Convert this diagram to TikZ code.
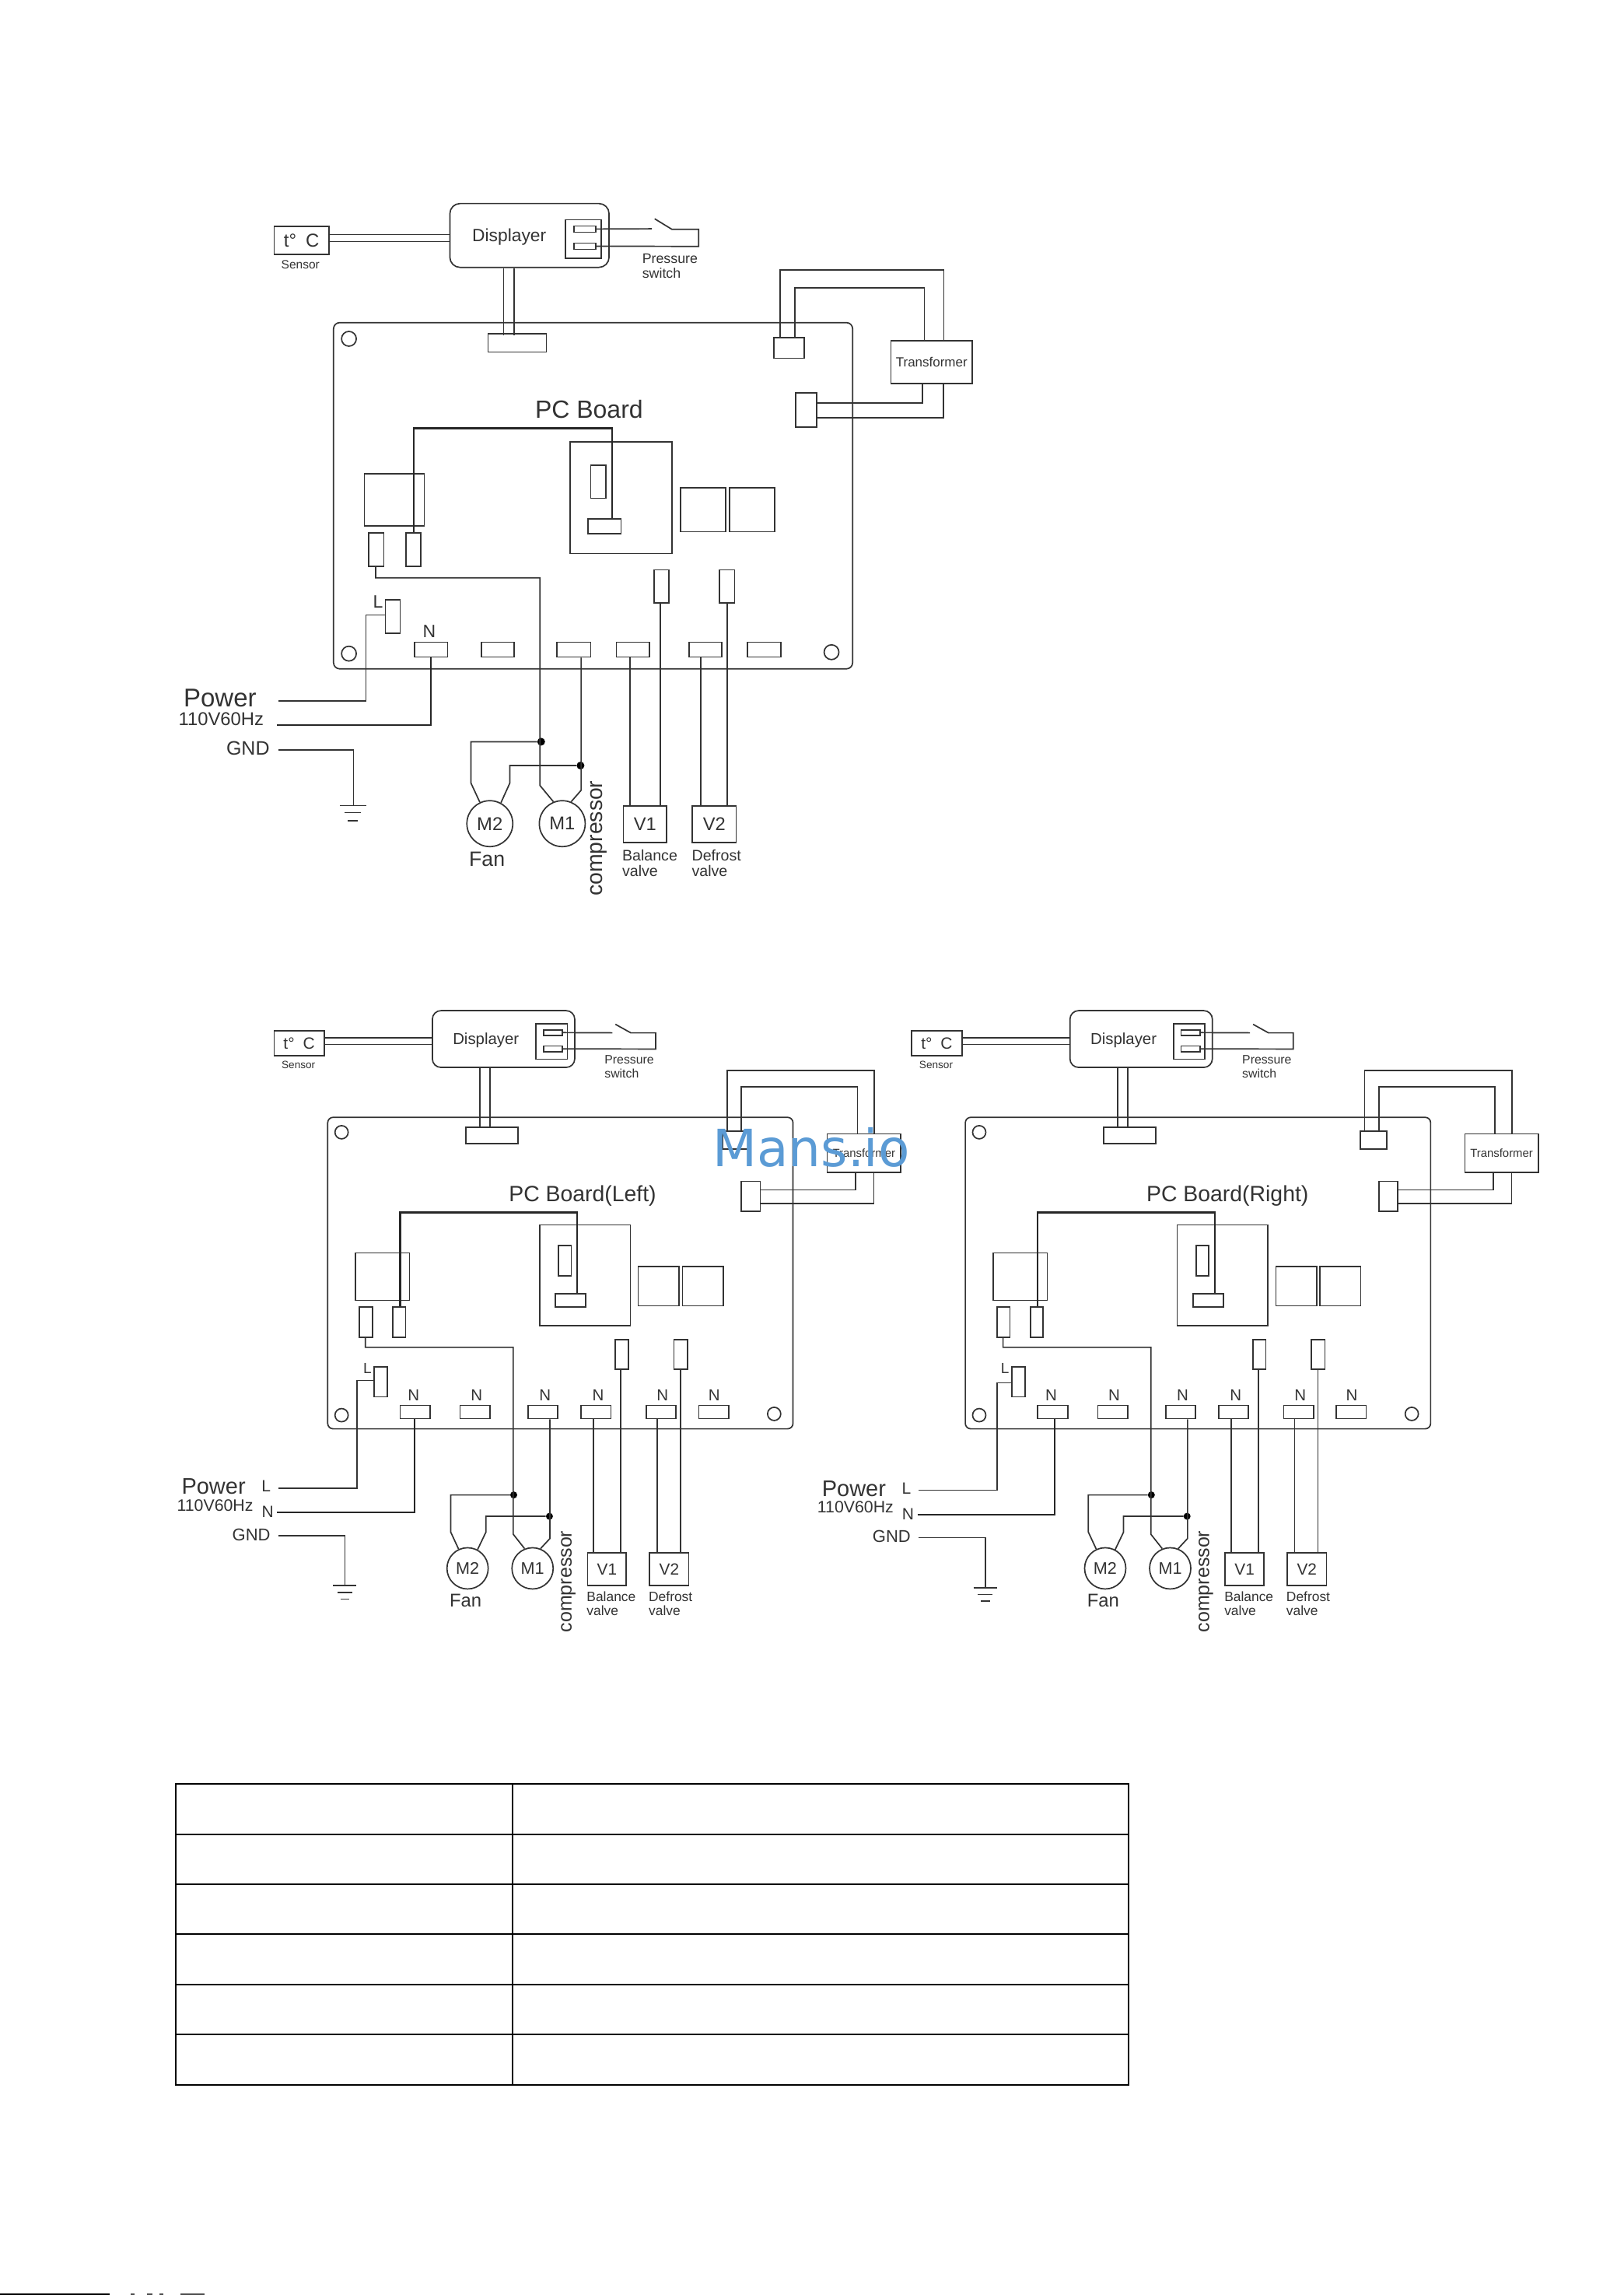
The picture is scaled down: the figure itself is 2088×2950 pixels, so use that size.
\documentclass[tikz,border=0pt]{standalone}
\usepackage{fontspec}
\setmainfont{Liberation Sans}
\newfontfamily\wmfont{DejaVu Sans}
\usetikzlibrary{fit}
\definecolor{ink}{HTML}{333333}
\definecolor{wm}{HTML}{5B9BD5}
\newcommand{\fs}[1]{\fontsize{#1pt}{#1pt}\selectfont}
\tikzset{
  boxn/.style={draw=ink,line width=1.7pt,inner sep=0pt,rectangle},
  wire/.style={draw=ink,line width=1.7pt,line join=miter},
  hwire/.style={draw=black!85,line width=2.4pt,line join=miter},
  txt/.style={text=ink,inner sep=0pt},
  hole/.style={circle,draw=ink,line width=1.7pt,inner sep=0pt,minimum size=#1},
  motor/.style={circle,draw=ink,line width=1.7pt,inner sep=0pt,text=ink,minimum size=#1},
  joint/.style={circle,fill=black,inner sep=0pt,minimum size=#1},
  tline/.style={draw=black,line width=2pt}
}
\newcommand{\bx}[7][]{\node[boxn,#1,fit={(#3,#4) (#5,#6)}] (#2) {};%
  \node[txt,#1,draw=none,rounded corners=0pt] (#2-t) at (#2.center) {#7};}

% ---------- lower diagram, written in a 1568-wide frame of its own
\newcommand{\lowdiag}[5]{%
\begin{scope}[shift={(#2pt,-1270pt)},x=.6378pt,y=-.5485pt]
  \bx[font=\fs{21}]{#1sens}{239}{100}{340}{159}{t°\hspace{11pt}C}
  \node[txt,font=\fs{13.6}] (#1senst) at (288,180) {Sensor};
  \bx[rounded corners=11pt]{#1disp}{558}{53}{845}{186}{}
  \node[txt,font=\fs{20.4}] (#1dispt) at (666,122) {Displayer};
  \bx{#1sock}{767}{84}{830}{167}{}
  \bx{#1pa}{782}{98}{820}{111}{}
  \bx{#1pb}{782}{136}{820}{149}{}
  \draw[wire] (#1sens.east |- 0,117) -- (#1disp.west |- 0,117);
  \draw[wire] (#1sens.east |- 0,132) -- (#1disp.west |- 0,132);
  \coordinate (#1swa) at (921,105);
  \coordinate (#1swt) at (927,85);
  \coordinate (#1swb) at (958,105);
  \draw[wire] (#1pa.east) -- (#1swa);
  \draw[wire] (#1swt) -- (#1swb) -- (1008,105) -- (1008,143) -- (#1pb.east);
  \node[txt,font=\fs{15.8},anchor=west] (#1pt1) at (905,168) {Pressure};
  \node[txt,font=\fs{15.8},anchor=west] (#1pt2) at (905,200) {switch};
  % board
  \bx[rounded corners=7pt]{#1board}{347}{303}{1285}{1033}{}
  \node[hole=17pt] (#1h1) at (375,338) {};
  \node[hole=17pt] (#1h2) at (375,1001) {};
  \node[hole=17pt] (#1h3) at (1247,998) {};
  \bx{#1cc}{626}{326}{731}{365}{}
  \draw[wire] (654,0 |- #1disp.south) -- (654,0 |- #1cc.north);
  \draw[wire] (674,0 |- #1disp.south) -- (674,0 |- #1cc.north);
  % transformer
  \bx{#1ctop}{1143}{335}{1197}{378}{}
  \bx{#1cside}{1181}{453}{1219}{523}{}
  \bx[font=\fs{14.9}]{#1trans}{1354}{342}{1502}{432}{Transformer}
  \draw[wire] (1152,0 |- #1ctop.north) -- (1152,193) -- (1449,193) -- (1449,0 |- #1trans.north);
  \draw[wire] (1181,0 |- #1ctop.north) -- (1181,231) -- (1415,231) -- (1415,0 |- #1trans.north);
  \draw[wire] (#1cside.east |- 0,473) -- (1411,473) -- (1411,0 |- #1trans.south);
  \draw[wire] (#1cside.east |- 0,505) -- (1448,505) -- (1448,0 |- #1trans.south);
  \node[txt,font=\fs{28.4},anchor=west] (#1title) at (712,487) {#3};
  % parts
  \bx{#1rel}{403}{621}{512}{732}{}
  \bx{#1sa}{411}{747}{437}{818}{}
  \bx{#1sb}{478}{747}{504}{818}{}
  \bx{#1sq}{774}{555}{957}{791}{}
  \bx{#1sqa}{812}{604}{838}{674}{}
  \bx{#1sqb}{806}{717}{867}{748}{}
  \bx{#1ra}{973}{653}{1055}{745}{}
  \bx{#1rb}{1062}{653}{1144}{745}{}
  \bx{#1ta}{927}{824}{953}{893}{}
  \bx{#1tb}{1045}{824}{1072}{893}{}
  \draw[hwire] (850,0 |- #1sqb.north) -- (850,526) -- (493,526) -- (493,0 |- #1sb.north);
  % terminals
  \bx{#1lc}{441}{888}{467}{958}{}
  \node[txt,font=\fs{19}] (#1ll) at (427,892) {L};
  \bx{#1n1}{493}{978}{554}{1009}{}
  \bx{#1n2}{614}{978}{674}{1009}{}
  \bx{#1n3}{751}{978}{811}{1009}{}
  \bx{#1n4}{858}{978}{918}{1009}{}
  \bx{#1n5}{989}{978}{1049}{1009}{}
  \bx{#1n6}{1095}{978}{1155}{1009}{}
  \node[txt,font=\fs{20.5}] (#1nt1) at (520,955) {N};
  \node[txt,font=\fs{20.5}] (#1nt2) at (647,955) {N};
  \node[txt,font=\fs{20.5}] (#1nt3) at (785,955) {N};
  \node[txt,font=\fs{20.5}] (#1nt4) at (892,955) {N};
  \node[txt,font=\fs{20.5}] (#1nt5) at (1022,955) {N};
  \node[txt,font=\fs{20.5}] (#1nt6) at (1126,955) {N};
  % loads
  \node[motor=53pt,font=\fs{21.6}] (#1m2) at (629,1360) {M2};
  \node[motor=53pt,font=\fs{21.6}] (#1m1) at (760,1360) {M1};
  \node[txt,font=\fs{23.8}] (#1fan) at (625,1435) {Fan};
  \node[txt,font=\fs{25},rotate=90] (#1comp) at (832,1391) {compressor};
  \bx[font=\fs{20.8}]{#1v1}{871}{1324}{949}{1400}{V1}
  \bx[font=\fs{20.8}]{#1v2}{996}{1324}{1075}{1400}{V2}
  \node[txt,font=\fs{17.4},anchor=west] (#1b1) at (869,1426) {Balance};
  \node[txt,font=\fs{17.4},anchor=west] (#1b2) at (869,1459) {valve};
  \node[txt,font=\fs{17.4},anchor=west] (#1d1) at (994,1426) {Defrost};
  \node[txt,font=\fs{17.4},anchor=west] (#1d2) at (994,1459) {valve};
  \node[joint=9pt] (#1j1) at (722,1188) {};
  \node[joint=9pt] (#1j2) at (794,1238) {};
  \draw[wire] (423,0 |- #1sa.south) -- (423,842) -- (721,842) -- (721,1280) -- (#1m1.112);
  \draw[wire] (795,0 |- #1n3.south) -- (795,1290) -- (#1m1.68);
  \draw[wire] (#1j1) -- (595,1188) -- (595,1275) -- (#1m2.115);
  \draw[wire] (#1j2) -- (666,1238) -- (666,1275) -- (#1m2.62);
  \draw[wire] (883,0 |- #1n4.south) -- (883,0 |- #1v1.north);
  \draw[wire] (938,0 |- #1ta.south) -- (938,0 |- #1v1.north);
  \draw[wire] (1011,0 |- #1n5.south) -- (1011,0 |- #1v2.north);
  \draw[wire] (1058,0 |- #1tb.south) -- (1058,0 |- #1v2.north);
  % supply, moved as one group
  \node[txt,font=\fs{29}] (#1pw) at (117+#4,1168+#5) {Power};
  \node[txt,font=\fs{21.3}] (#1hz) at (120+#4,1212+#5) {110V60Hz};
  \node[txt,font=\fs{21}] (#1pl) at (223+#4,1167+#5) {L};
  \node[txt,font=\fs{21}] (#1pn) at (226+#4,1228+#5) {N};
  \node[txt,font=\fs{22}] (#1gn) at (193+#4,1281+#5) {GND};
  \coordinate (#1le) at (248+#4,1172+#5);
  \coordinate (#1ne) at (245+#4,1229+#5);
  \coordinate (#1ge) at (247+#4,1283+#5);
  \coordinate (#1g1) at (382+#4,1400+#5);
  \draw[wire] (#1le) -- (406+#4,1172+#5) -- (406+#4,920+#5) -- (#1lc.west |- 0,920+#5);
  \draw[hwire,line width=2pt] (#1ne) -- (522+#4,1229+#5) -- (522+#4,0 |- #1n1.south);
  \draw[wire] (#1ge) -- (382+#4,1283+#5) -- (#1g1);
  \draw[wire] (358+#4,1400+#5) -- (405+#4,1400+#5);
  \draw[wire] (367+#4,1416+#5) -- (396+#4,1416+#5);
  \draw[wire] (373+#4,1432+#5) -- (391+#4,1432+#5);
\end{scope}}

\begin{document}
\begin{tikzpicture}
\useasboundingbox (0,0) rectangle (2088pt,-2950pt);
\fill[white] (0,0) rectangle (2088pt,-2950pt);

% ---------- upper diagram
\begin{scope}[shift={(200pt,-220pt)},x=.7334pt,y=-.6122pt]
  \bx[font=\fs{24}]{tsens}{208}{116}{304}{175}{t°\hspace{12pt}C}
  \node[txt,font=\fs{15.5}] (tsenst) at (254,196) {Sensor};
  \bx[rounded corners=13pt]{tdisp}{516}{68}{795}{202}{}
  \node[txt,font=\fs{22.8}] (tdispt) at (620,138) {Displayer};
  \bx{tsock}{719}{102}{781}{183}{}
  \bx{tpa}{734}{115}{772}{128}{}
  \bx{tpb}{734}{151}{772}{164}{}
  \draw[wire] (tsens.east |- 0,133) -- (tdisp.west |- 0,133);
  \draw[wire] (tsens.east |- 0,148) -- (tdisp.west |- 0,148);
  \coordinate (tswa) at (870,121);
  \coordinate (tswt) at (875,100);
  \coordinate (tswb) at (905,122);
  \draw[wire] (tpa.east) -- (tswa);
  \draw[wire] (tswt) -- (tswb) -- (952,122) -- (952,158) -- (tpb.east);
  \node[txt,font=\fs{17.8},anchor=west] (tpt1) at (853,183) {Pressure};
  \node[txt,font=\fs{17.8},anchor=west] (tpt2) at (853,215) {switch};
  % board
  \bx[rounded corners=8pt]{tboard}{312}{318}{1222}{1045}{}
  \node[hole=19pt] (th1) at (339,352) {};
  \node[hole=19pt] (th2) at (339,1013) {};
  \node[hole=19pt] (th3) at (1185,1010) {};
  \bx{tcc}{583}{341}{685}{380}{}
  \draw[wire] (610,0 |- tdisp.south) -- (610,345);
  \draw[wire] (629,0 |- tdisp.south) -- (629,345);
  % transformer
  \bx{tctop}{1084}{350}{1137}{393}{}
  \bx{tcside}{1122}{466}{1159}{537}{}
  \bx[font=\fs{17}]{ttrans}{1289}{356}{1432}{446}{Transformer}
  \draw[wire] (1095,0 |- tctop.north) -- (1095,208) -- (1382,208) -- (1382,0 |- ttrans.north);
  \draw[wire] (1121,0 |- tctop.north) -- (1121,245) -- (1348,245) -- (1348,0 |- ttrans.north);
  \draw[wire] (tcside.east |- 0,487) -- (1344,487) -- (1344,0 |- ttrans.south);
  \draw[wire] (tcside.east |- 0,518) -- (1381,518) -- (1381,0 |- ttrans.south);
  \node[txt,font=\fs{32}] (ttitle) at (760,500) {PC Board};
  % parts
  \bx{trel}{366}{635}{471}{745}{}
  \bx{tsa}{374}{760}{400}{830}{}
  \bx{tsb}{439}{760}{465}{830}{}
  \bx{tsq}{727}{569}{905}{803}{}
  \bx{tsqa}{763}{617}{789}{687}{}
  \bx{tsqb}{758}{730}{816}{761}{}
  \bx{tra}{920}{665}{999}{757}{}
  \bx{trb}{1006}{665}{1085}{757}{}
  \bx{tta}{874}{837}{900}{906}{}
  \bx{ttb}{989}{837}{1015}{906}{}
  \draw[hwire] (800,0 |- tsqb.north) -- (800,540) -- (453,540) -- (453,0 |- tsb.north);
  % terminals
  \bx{tlc}{403}{900}{429}{970}{}
  \node[txt,font=\fs{23}] (tll) at (390,905) {L};
  \bx{tn1}{454}{989}{512}{1020}{}
  \bx{tn2}{571}{989}{629}{1020}{}
  \bx{tn3}{704}{989}{763}{1020}{}
  \bx{tn4}{808}{989}{866}{1020}{}
  \bx{tn5}{935}{989}{993}{1020}{}
  \bx{tn6}{1038}{989}{1096}{1020}{}
  \node[txt,font=\fs{23}] (tnt1) at (480,967) {N};
  % loads
  \node[motor=59pt,font=\fs{23.8}] (tm2) at (586,1370) {M2};
  \node[motor=59pt,font=\fs{23.8}] (tm1) at (713,1370) {M1};
  \node[txt,font=\fs{26.7}] (tfan) at (581,1444) {Fan};
  \node[txt,font=\fs{28.4},rotate=90] (tcomp) at (777,1401) {compressor};
  \bx[font=\fs{23.7}]{tv1}{820}{1333}{896}{1410}{V1}
  \bx[font=\fs{23.7}]{tv2}{941}{1333}{1018}{1410}{V2}
  \node[txt,font=\fs{19.6},anchor=west] (tb1) at (818,1436) {Balance};
  \node[txt,font=\fs{19.6},anchor=west] (tb2) at (818,1469) {valve};
  \node[txt,font=\fs{19.6},anchor=west] (td1) at (940,1436) {Defrost};
  \node[txt,font=\fs{19.6},anchor=west] (td2) at (940,1469) {valve};
  \node[joint=10pt] (tj1) at (676,1198) {};
  \node[joint=10pt] (tj2) at (745,1248) {};
  \draw[wire] (386,0 |- tsa.south) -- (386,854) -- (674,854) -- (674,1290) -- (tm1.112);
  \draw[wire] (746,0 |- tn3.south) -- (746,1300) -- (tm1.68);
  \draw[wire] (tj1) -- (553,1198) -- (553,1285) -- (tm2.115);
  \draw[wire] (tj2) -- (621,1248) -- (621,1285) -- (tm2.62);
  \draw[wire] (832,0 |- tn4.south) -- (832,0 |- tv1.north);
  \draw[wire] (885,0 |- tta.south) -- (885,0 |- tv1.north);
  \draw[wire] (956,0 |- tn5.south) -- (956,0 |- tv2.north);
  \draw[wire] (1002,0 |- ttb.south) -- (1002,0 |- tv2.north);
  % supply
  \node[txt,font=\fs{33}] (tpw) at (113,1107) {Power};
  \node[txt,font=\fs{23.8}] (thz) at (115,1151) {110V60Hz};
  \node[txt,font=\fs{25}] (tgn) at (162,1212) {GND};
  \coordinate (tle) at (216,1112);
  \coordinate (tne) at (213,1163);
  \coordinate (tge) at (215,1215);
  \coordinate (tg1) at (347,1332);
  \draw[wire] (tle) -- (369,1112) -- (369,932) -- (tlc.west |- 0,932);
  \draw[hwire,line width=2pt] (tne) -- (482,1163) -- (482,0 |- tn1.south);
  \draw[wire] (tge) -- (347,1215) -- (tg1);
  \draw[wire] (323,1332) -- (369,1332);
  \draw[wire] (331,1347) -- (360,1347);
  \draw[wire] (337,1364) -- (355,1364);
\end{scope}

% ---------- lower diagrams
\lowdiag{l}{200}{PC Board(Left)}{0}{0}
\lowdiag{r}{1019.8}{PC Board(Right)}{5.5}{5}

% ---------- watermark
\node[anchor=base,inner sep=0pt,text=wm,font=\wmfont\fs{66}] (mark) at (1043pt,-1499pt) {Mans.io};

% ---------- table
\draw[tline] (226pt,-2293pt) rectangle (1451pt,-2680pt);
\draw[tline] (659pt,-2293pt) -- (659pt,-2680pt);
\foreach \yy in {2357.6,2422,2486,2551,2615}{
  \draw[tline] (226pt,-\yy pt) -- (1451pt,-\yy pt);
}
% ---------- page-foot remnant
\draw[black,line width=2pt] (0pt,-2949pt) -- (141pt,-2949pt);
\foreach \ax/\bx in {168/173,189/196,205/210,232/263}{
  \draw[black!70,line width=2pt] (\ax pt,-2949pt) -- (\bx pt,-2949pt);
}
\end{tikzpicture}
\end{document}
